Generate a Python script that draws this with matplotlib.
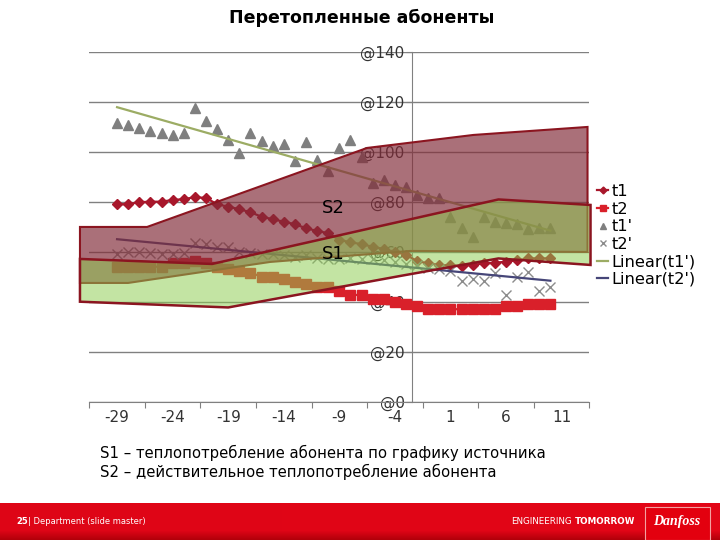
import numpy as np
import matplotlib.pyplot as plt
from matplotlib.patches import Polygon, Rectangle

# outdoor temperature, one point per degree
days = list(range(-29, 11))

t1 = [79, 79, 79.8, 80, 80, 80.7, 81, 81.8, 81.5,
      79, 78, 77, 75.8, 74, 73, 72, 71, 69.4, 68.3, 67.4,
      64.7, 63.8, 63, 62, 61, 60, 58.7, 56.3, 55.3, 54.7,
      54.5, 54.3, 54.7, 55.3, 55.6, 56, 56.5, 57.3, 57.3, 57.3]
t2 = [54, 54, 54, 54, 54, 55.3, 55.6, 56.3, 55.4,
      54, 53, 52.3, 51.6, 50, 49.8, 49, 48, 47, 46, 46,
      44.3, 42.7, 42.7, 41.2, 41.2, 40, 39, 38.3, 37, 37,
      37, 37, 37, 37, 37, 38.3, 38.3, 39, 39, 39]
t1_p = [111.4, 110.7, 109.4, 108.3, 107.6, 106.7, 107.6, 117.4, 112.4,
        109.1, 104.7, 99.4, 107.6, 104.4, 102.3, 103, 96.4, 103.7, 96.7, 92.4,
        101.6, 104.7, 98, 87.6, 88.7, 86.7, 85.8, 82.7, 81.4, 81.6,
        74, 69.6, 66, 74, 72, 71.6, 71, 69, 69.6, 69.6]
t2_p = [59, 60, 60, 59.5, 59, 59, 59.5, 63.5, 63,
        62, 62, 60, 59.5, 59, 59, 58.5, 58, 58.5, 57.5, 57,
        57, 57.5, 57, 57, 56.5, 56, 55, 54.5, 53.5, 53,
        52.3, 48.3, 49, 48.3, 51.6, 42.7, 49.8, 52, 44.4, 46]

# trend line end points
trend_x = [-29, 10]
trend_t1_p = [117.8, 68.4]
trend_t2_p = [65.0, 48.4]

# hand drawn areas S2 and S1 (data units)
s2_x = [-32.34, -26.3, -6.5, 3.07, 13.34, 13.34, -2.61, -15.22, -28.01, -32.34]
s2_y = [69.9, 69.9, 101.5, 106.7, 109.9, 59.9, 60.3, 55.9, 47.5, 47.5]
s1_x = [-32.34, -20.45, 5.32, 13.61, 13.61, 5.32, -3.51, -19.0, -32.34]
s1_y = [57.1, 55.1, 80.9, 78.7, 54.7, 57.3, 50.3, 37.7, 40.0]

x_labels = [-29, -24, -19, -14, -9, -4, 1, 6, 11]
y_ticks = [0, 20, 40, 60, 80, 100, 120, 140]

fig = plt.figure(figsize=(7.2, 5.4), dpi=100)
ax = fig.add_axes([89.3 / 720, 138.3 / 540, 500 / 720, 350 / 540])

ax.set_xlim(-31.5, 13.5)
ax.set_ylim(0, 140)
for s in ['top', 'right']:
    ax.spines[s].set_visible(False)
ax.spines['left'].set_position(('data', -2.5))
ax.spines['left'].set_color('#808080')
ax.spines['bottom'].set_color('#808080')

ax.set_yticks(y_ticks)
ax.set_yticklabels(['@%d' % v for v in y_ticks])
ax.yaxis.grid(True, color='#808080', lw=1)
ax.tick_params(axis='y', direction='out', length=4, pad=1, color='#808080',
               labelsize=11, labelcolor='#333333')

ax.set_xticks(np.arange(-31.5, 14, 5))
ax.set_xticklabels([])
ax.set_xticks(x_labels, minor=True)
ax.set_xticklabels([str(v) for v in x_labels], minor=True)
ax.tick_params(axis='x', which='major', direction='out', length=4, color='#808080')
ax.tick_params(axis='x', which='minor', length=0, pad=6, labelsize=11,
               labelcolor='#333333')

l1, = ax.plot(days, t1, color='#A8172B', marker='D', ms=5, lw=1.6, label='t1', zorder=3)
l2, = ax.plot(days, t2, color='#D9202A', marker='s', ms=6.5, lw=1.6, label='t2', zorder=3)
l3, = ax.plot(days, t1_p, ls='none', color='#7F7F7F', marker='^', ms=6.5, label="t1'",
              zorder=3)
l4, = ax.plot(days, t2_p, ls='none', color='#8C8C8C', marker='x', ms=7, mew=1,
              label="t2'", zorder=3)
l5, = ax.plot(trend_x, trend_t1_p, color='#9CAC64', lw=1.6, label="Linear(t1')", zorder=3)
l6, = ax.plot(trend_x, trend_t2_p, color='#464678', lw=1.6, label="Linear(t2')", zorder=3)

ax.add_patch(Polygon(np.column_stack([s2_x, s2_y]), closed=True,
                     facecolor=(130 / 255, 44 / 255, 57 / 255, 0.68),
                     edgecolor='#8B1520', lw=1.5, clip_on=False, zorder=4))
ax.add_patch(Polygon(np.column_stack([s1_x, s1_y]), closed=True,
                     facecolor=(140 / 255, 205 / 255, 80 / 255, 0.52),
                     edgecolor='#8B1520', lw=1.8, clip_on=False, zorder=5))

ax.text(-9.55, 77.5, 'S2', fontsize=13, ha='center', va='center', zorder=6)
ax.text(-9.55, 59.1, 'S1', fontsize=13, ha='center', va='center', zorder=6)

ax.legend(handles=[l1, l2, l3, l4, l5, l6], loc='upper left',
          bbox_to_anchor=(597 / 720, 1 - 184 / 540), bbox_transform=fig.transFigure,
          frameon=False, fontsize=11.7, handlelength=0.7, handletextpad=0.2,
          labelspacing=0.16, borderpad=0, borderaxespad=0, markerscale=0.7)

fig.text(362 / 720, 1 - 18 / 540, 'Перетопленные абоненты', fontsize=12.5,
         fontweight='bold', ha='center', va='center')
fig.text(100 / 720, 1 - 453 / 540, 'S1 – теплопотребление абонента по графику источника',
         fontsize=10.75, ha='left', va='center')
fig.text(100 / 720, 1 - 472 / 540, 'S2 – действительное теплопотребление абонента',
         fontsize=10.75, ha='left', va='center')

# footer band
fax = fig.add_axes([0, 0, 1, 37 / 540])
fax.set_axis_off()
rows = np.linspace(0, 1, 37)[:, None]
cols = np.linspace(0, 1, 720)[None, :]
top_fade = np.clip(rows * 4, 0, 1)
r = 0.70 + 0.19 * top_fade * (0.9 + 0.1 * cols)
g = 0.0 + 0.02 * top_fade
b = 0.04 + 0.05 * top_fade
img = np.dstack([r[::-1] * np.ones_like(cols), g[::-1] * np.ones_like(cols),
                 b[::-1] * np.ones_like(cols)])
fax.imshow(np.clip(img, 0, 1), aspect='auto', extent=[0, 1, 0, 1])
fax.set_xlim(0, 1)
fax.set_ylim(0, 1)

fig.text(16 / 720, 1 - 522 / 540, '25', fontsize=6, fontweight='bold', color='white',
         va='center')
fig.text(28 / 720, 1 - 522 / 540, '| Department (slide master)', fontsize=6,
         color='white', va='center')
fig.text(572 / 720, 1 - 522 / 540, 'ENGINEERING', fontsize=6.3, color='white',
         ha='right', va='center')
fig.text(575 / 720, 1 - 522 / 540, 'TOMORROW', fontsize=6.3, fontweight='bold',
         color='white', ha='left', va='center')
fig.patches.append(Rectangle((645 / 720, 0), 65 / 720, 33 / 540, transform=fig.transFigure,
                             facecolor='#E3000F', edgecolor='#F4A0A0', lw=0.8))
fig.text(677 / 720, 1 - 522 / 540, 'Danfoss', fontsize=10, style='italic',
         fontweight='bold', family='Liberation Serif', color='white',
         ha='center', va='center')

fig.savefig('out.png', dpi=100)
